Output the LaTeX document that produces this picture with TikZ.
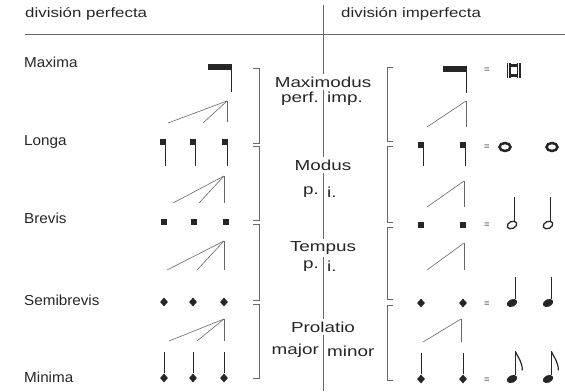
\documentclass[tikz,border=0pt]{standalone}
\usepackage{fontspec}
\setmainfont[FakeStretch=1.05]{Liberation Sans}
\newfontfamily\widefont[FakeStretch=1.3]{Liberation Sans}
\newfontfamily\headfont[FakeStretch=1.25]{Liberation Sans}
\usepackage{tikz}
\usetikzlibrary{shapes.geometric, positioning}
\definecolor{ink}{gray}{0.15}
\definecolor{rule}{gray}{0.4}

\begin{document}
\begin{tikzpicture}[x=1pt, y=-1pt,
    every node/.style={text=ink, font=\fontsize{14.5}{16}\selectfont, inner sep=1pt},
    lbl/.style={anchor=west},
    head/.style={anchor=west, font=\headfont\fontsize{13.5}{15}\selectfont},
    mid/.style={font=\widefont\fontsize{14.5}{16}\selectfont},
    title/.style={mid, fill=white, inner sep=2.5pt},
    ln/.style={draw=rule, line width=0.6pt},
    stem/.style={draw=ink, line width=1pt},
    bar/.style={rectangle, fill=ink, minimum width=24pt, minimum height=6pt, inner sep=0pt},
    sq/.style={rectangle, fill=ink, minimum width=5.5pt, minimum height=6.5pt, inner sep=0pt},
    dia/.style={diamond, fill=ink, minimum width=8pt, minimum height=9pt, inner sep=0pt},
    eq/.style={font=\fontsize{9}{10}\selectfont},
    whole/.style={ellipse, draw=ink, line width=2.5pt, minimum width=11pt, minimum height=8pt, inner sep=0pt},
    hollow/.style={ellipse, draw=ink, line width=1.3pt, minimum width=10pt, minimum height=7pt, inner sep=0pt, rotate=25},
    black/.style={ellipse, fill=ink, minimum width=11pt, minimum height=7.5pt, inner sep=0pt, rotate=25}
]
\useasboundingbox (0,0) rectangle (565,391);

% header
\node[head] (perfecta) at (24,14) {división perfecta};
\node[head] (imperfecta) at (340,14) {división imperfecta};
\draw[ln] (25,34) -- (565,34);
\draw[ln] (323,5) -- (323,391);

% note names
\node[lbl] (maxima) at (23,62) {Maxima};
\node[lbl] (longa) at (23,142) {Longa};
\node[lbl] (brevis) at (23,218) {Brevis};
\node[lbl] (semibrevis) at (23,300) {Semibrevis};
\node[lbl] (minima) at (23,377) {Minima};

% middle column
\node[title] (maximodus) at (323,82) {Maximodus};
\node[mid, anchor=east] (perf) at (320,99) {perf.};
\node[mid, anchor=west] (imp) at (326,99) {imp.};
\node[title] (modus) at (323,165) {Modus};
\node[mid, anchor=east] (mp) at (320,192) {p.};
\node[mid, anchor=west] (mi) at (326,192) {i.};
\node[title] (tempus) at (323,248) {Tempus};
\node[mid, anchor=east] (tp) at (320,266) {p.};
\node[mid, anchor=west] (ti) at (326,266) {i.};
\node[title] (prolatio) at (323,327) {Prolatio};
\node[mid, anchor=east] (major) at (320,351) {major};
\node[mid, anchor=west] (minor) at (326,351) {minor};

% brackets
\draw[ln] (253,68) -- (259,68) -- (259,143) -- (253,143);
\draw[ln] (253,146) -- (259,146) -- (259,220) -- (253,220);
\draw[ln] (253,224) -- (259,224) -- (259,300) -- (253,300);
\draw[ln] (253,304) -- (259,304) -- (259,378) -- (253,378);
\draw[ln] (393,67) -- (387,67) -- (387,141) -- (393,141);
\draw[ln] (393,146) -- (387,146) -- (387,222) -- (393,222);
\draw[ln] (393,227) -- (387,227) -- (387,299) -- (393,299);
\draw[ln] (393,305) -- (387,305) -- (387,380) -- (393,380);

% perfect division
\node[bar] (mx1) at (219.5,66.5) {};
\draw[stem] (mx1.east) ++(-0.5,0) -- ++(0,25);
\coordinate (a1) at (227,101);
\coordinate (a1l) at (168,123);
\coordinate (a1m) at (203,123);
\coordinate (a1r) at (227,122);
\draw[ln] (a1) -- (a1l);
\draw[ln] (a1) -- (a1m);
\draw[ln] (a1) -- (a1r);

\node[sq] (lg1) at (163,142) {};
\node[sq] (lg2) at (193,142) {};
\node[sq] (lg3) at (225,142) {};
\draw[stem] (lg1.north east) ++(-0.5,0) -- ++(0,27);
\draw[stem] (lg2.north east) ++(-0.5,0) -- ++(0,27);
\draw[stem] (lg3.north east) ++(-0.5,0) -- ++(0,27);
\coordinate (a2) at (224,176);
\coordinate (a2l) at (173,203);
\coordinate (a2m) at (199,203);
\coordinate (a2r) at (224,203);
\draw[ln] (a2) -- (a2l);
\draw[ln] (a2) -- (a2m);
\draw[ln] (a2) -- (a2r);

\node[sq, minimum height=6pt, minimum width=6pt] (br1) at (164,222) {};
\node[sq, minimum height=6pt, minimum width=6pt] (br2) at (194,222) {};
\node[sq, minimum height=6pt, minimum width=6pt] (br3) at (226,222) {};
\coordinate (a3) at (224,241);
\coordinate (a3l) at (167,270);
\coordinate (a3m) at (197,270);
\coordinate (a3r) at (224,270);
\draw[ln] (a3) -- (a3l);
\draw[ln] (a3) -- (a3m);
\draw[ln] (a3) -- (a3r);

\node[dia] (sb1) at (164,302) {};
\node[dia] (sb2) at (193,302) {};
\node[dia] (sb3) at (224,302) {};
\coordinate (a4) at (224,319);
\coordinate (a4l) at (169,341);
\coordinate (a4m) at (197,341);
\coordinate (a4r) at (224,341);
\draw[ln] (a4) -- (a4l);
\draw[ln] (a4) -- (a4m);
\draw[ln] (a4) -- (a4r);

\node[dia] (mn1) at (164,378) {};
\node[dia] (mn2) at (193,378) {};
\node[dia] (mn3) at (224,378) {};
\draw[stem] (mn1.north) -- ++(0,-21);
\draw[stem] (mn2.north) -- ++(0,-21);
\draw[stem] (mn3.north) -- ++(0,-21);

% imperfect division
\node[bar] (mx2) at (455,68.5) {};
\draw[stem] (mx2.east) ++(-0.5,0) -- ++(0,24);
\coordinate (b1) at (466,101);
\coordinate (b1l) at (427,127);
\coordinate (b1r) at (466,127);
\draw[ln] (b1) -- (b1l);
\draw[ln] (b1) -- (b1r);

\node[sq] (lg4) at (421,145) {};
\node[sq] (lg5) at (463,145) {};
\draw[stem] (lg4.north east) ++(-0.5,0) -- ++(0,24);
\draw[stem] (lg5.north east) ++(-0.5,0) -- ++(0,24);
\coordinate (b2) at (464,181);
\coordinate (b2l) at (427,207);
\coordinate (b2r) at (464,207);
\draw[ln] (b2) -- (b2l);
\draw[ln] (b2) -- (b2r);

\node[sq, minimum height=6pt, minimum width=6pt] (br4) at (421,225) {};
\node[sq, minimum height=6pt, minimum width=6pt] (br5) at (463,225) {};
\coordinate (b3) at (464,243);
\coordinate (b3l) at (427,270);
\coordinate (b3r) at (464,270);
\draw[ln] (b3) -- (b3l);
\draw[ln] (b3) -- (b3r);

\node[dia] (sb4) at (421,303) {};
\node[dia] (sb5) at (463,303) {};
\coordinate (b4) at (461,319);
\coordinate (b4l) at (423,342);
\coordinate (b4r) at (461,342);
\draw[ln] (b4) -- (b4l);
\draw[ln] (b4) -- (b4r);

\node[dia] (mn4) at (421,379) {};
\node[dia] (mn5) at (463,379) {};
\draw[stem] (mn4.north) -- ++(0,-21);
\draw[stem] (mn5.north) -- ++(0,-21);

% modern notation
\node[eq] (eq1) at (487,70) {=};
\node[eq] (eq2) at (487,147) {=};
\node[eq] (eq3) at (487,225) {=};
\node[eq] (eq4) at (487,304) {=};
\node[eq] (eq5) at (487,380) {=};

\draw[ink, line width=1.3pt] (507.5,63) -- (507.5,78);
\draw[ink, line width=1.3pt] (510,63) -- (510,78);
\draw[ink, line width=1.3pt] (517.5,63) -- (517.5,78);
\draw[ink, line width=1.3pt] (520,63) -- (520,78);
\draw[ink, line width=2.2pt] (510,65.5) -- (517.5,65.5);
\draw[ink, line width=2.2pt] (510,75.5) -- (517.5,75.5);

\node[whole] (wh1) at (505,147) {};
\node[whole] (wh2) at (552,147) {};

\node[hollow] (hf1) at (512,225) {};
\node[hollow] (hf2) at (548,225) {};
\draw[stem] (hf1.north) ++(4.5,0) -- ++(0,-24);
\draw[stem] (hf2.north) ++(4.5,0) -- ++(0,-24);

\node[black] (qt1) at (512,303) {};
\node[black] (qt2) at (548,303) {};
\draw[stem] (qt1.north) ++(5,0) -- ++(0,-22);
\draw[stem] (qt2.north) ++(5,0) -- ++(0,-22);

\node[black] (ei1) at (512,379) {};
\node[black] (ei2) at (548,379) {};
\draw[stem] (ei1.north) ++(5,0) -- ++(0,-24) coordinate (f1);
\draw[stem] (ei2.north) ++(5,0) -- ++(0,-24) coordinate (f2);
\draw[ink, line width=1.2pt] (f1) .. controls ++(2,5) and ++(0,-9) .. ++(7,19);
\draw[ink, line width=1.2pt] (f2) .. controls ++(2,5) and ++(0,-9) .. ++(7,19);
\end{tikzpicture}
\end{document}
